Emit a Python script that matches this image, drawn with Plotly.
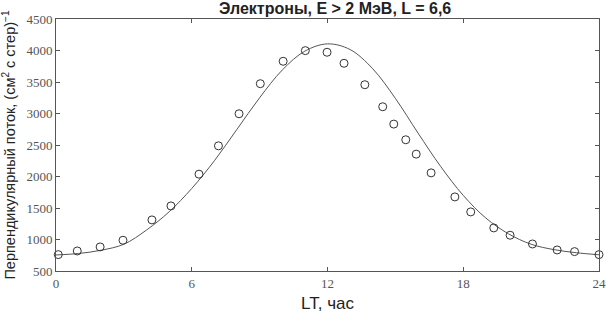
import plotly.graph_objects as go

# measured points (LT hour, flux)
lt_obs = [0.1, 0.94, 1.95, 2.96, 4.24, 5.08, 6.32, 7.18, 8.09, 9.03, 10.04, 11.02,
          11.98, 12.73, 13.65, 14.44, 14.93, 15.46, 15.92, 16.58, 17.63, 18.33,
          19.35, 20.07, 21.06, 22.15, 22.92, 24.0]
flux_obs = [760, 818, 882, 988, 1311, 1533, 2037, 2487, 2996, 3473, 3829, 3998,
            3972, 3797, 3457, 3107, 2832, 2583, 2355, 2058, 1676, 1438,
            1184, 1068, 929, 834, 808, 760]

# model curve, hourly
lt_fit = list(range(25))
flux_fit = [755, 778, 830, 925, 1150, 1440, 1810, 2250, 2750, 3250, 3690, 3990,
            4105, 4015, 3710, 3240, 2690, 2160, 1700, 1340, 1090, 925, 840, 790, 758]

x_ticks = [0, 6, 12, 18, 24]
y_ticks = [500, 1000, 1500, 2000, 2500, 3000, 3500, 4000, 4500]

fig = go.Figure()

fig.add_trace(go.Scatter(
    x=lt_fit, y=flux_fit, mode='lines', line_shape='spline',
    line=dict(color='#555555', width=1), showlegend=False
))

fig.add_trace(go.Scatter(
    x=lt_obs, y=flux_obs, mode='markers', cliponaxis=False,
    marker=dict(symbol='circle-open', size=8, color='#333333', line=dict(width=1)),
    showlegend=False
))

axis_common = dict(
    showgrid=False, zeroline=False, showline=True, linecolor='#555555', linewidth=1,
    mirror='ticks', ticks='inside', ticklen=4, tickcolor='#555555', automargin=False,
    tickfont=dict(family='Liberation Serif', size=13, color='#555555')
)

fig.update_layout(
    width=606, height=313,
    margin=dict(l=56, r=7, t=19, b=42),
    paper_bgcolor='white', plot_bgcolor='white',
    title=dict(text='<b>Электроны, E > 2 МэВ, L = 6,6</b>', x=0.553, xanchor='center',
               y=0.972, yanchor='middle',
               font=dict(family='Liberation Sans', size=16, color='#222222')),
    xaxis=dict(range=[0, 24], tickvals=x_ticks,
               title=dict(text='LT, час',
                          font=dict(family='Liberation Sans', size=17, color='#222222')),
               **axis_common),
    yaxis=dict(range=[500, 4500], tickvals=y_ticks,
               title=dict(text='Перпендикулярный поток, (см<sup>2</sup> с стер)<sup>−1</sup>',
                          font=dict(family='Liberation Sans', size=14.5, color='#222222')),
               **axis_common),
)

# page body has a default 8px margin; drop it so the figure sits at the corner
fig.write_html("out.html", config={'displayModeBar': False},
               post_script="document.body.style.margin='0';")
